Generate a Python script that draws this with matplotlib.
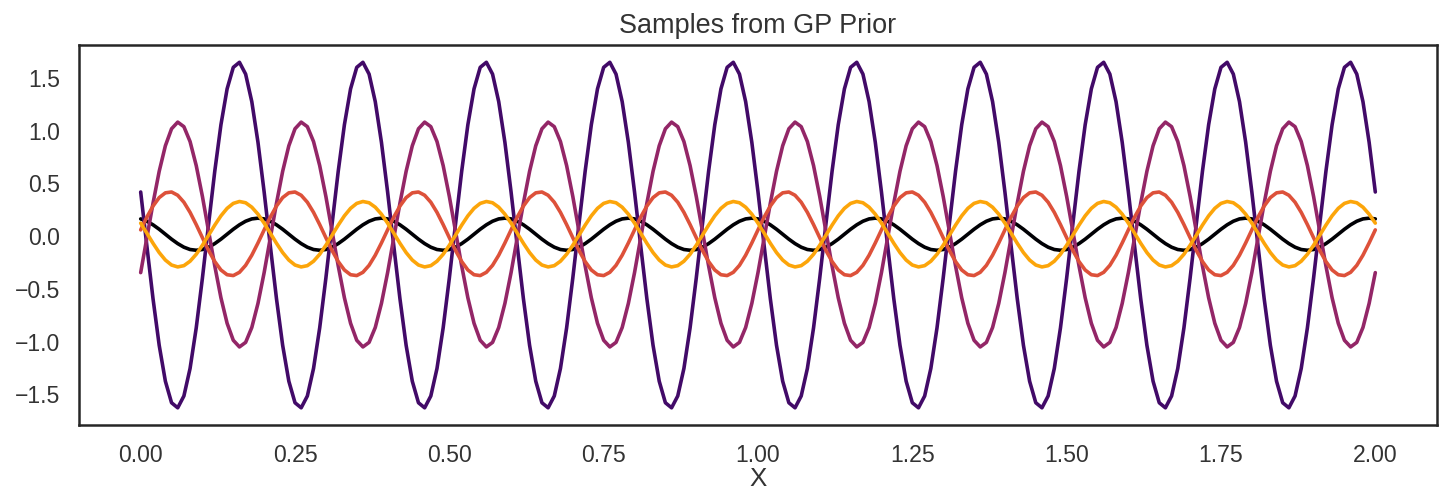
import numpy as np
import matplotlib
matplotlib.use("Agg")
import matplotlib.pyplot as plt
import seaborn as sns

# one period (0.2) of each prior sample, read at steps of 0.01
black = [0.163, 0.141, 0.107, 0.065, 0.018, -0.029, -0.071, -0.105, -0.127, -0.134,
         -0.127, -0.105, -0.071, -0.029, 0.018, 0.065, 0.107, 0.141, 0.163, 0.170]
purple = [0.418, -0.093, -0.594, -1.035, -1.375, -1.579, -1.627, -1.515, -1.254, -0.869,
          -0.398, 0.113, 0.614, 1.055, 1.395, 1.599, 1.647, 1.535, 1.274, 0.889]
magenta = [-0.346, -0.018, 0.312, 0.614, 0.856, 1.017, 1.080, 1.037, 0.896, 0.668,
           0.376, 0.048, -0.282, -0.584, -0.826, -0.987, -1.050, -1.007, -0.866, -0.638]
red = [0.059, 0.180, 0.285, 0.365, 0.410, 0.418, 0.387, 0.321, 0.225, 0.109,
       -0.015, -0.136, -0.241, -0.321, -0.366, -0.374, -0.343, -0.277, -0.181, -0.065]
yellow = [0.123, 0.028, -0.068, -0.156, -0.227, -0.274, -0.292, -0.280, -0.238, -0.172,
          -0.087, 0.008, 0.104, 0.192, 0.263, 0.310, 0.328, 0.316, 0.274, 0.208]

n_periods = 10
X = np.linspace(0, 2, 201)

sns.set_theme(style="white")
plt.rcParams['font.family'] = ['Liberation Sans', 'DejaVu Sans']
plt.rcParams['text.color'] = '#333333'
plt.rcParams['axes.labelcolor'] = '#333333'
plt.rcParams['xtick.color'] = '#333333'
plt.rcParams['ytick.color'] = '#333333'

fig = plt.figure(figsize=(1446 / 144, 492 / 144), dpi=144)
ax = fig.add_axes([0.0546, 0.136, 0.9392, 0.7725])

samples = [black, purple, magenta, red, yellow]
colors = plt.cm.inferno(np.linspace(0, 0.8, 5))
for s, c in zip(samples, colors):
    y = np.append(np.tile(s, n_periods), s[0])
    ax.plot(X, y, color=c, lw=1.8)

ax.set_title("Samples from GP Prior", fontsize=13.5)
ax.set_xlabel("X", fontsize=13, labelpad=0)
ax.set_xticks([0, 0.25, 0.5, 0.75, 1.0, 1.25, 1.5, 1.75, 2.0])
ax.tick_params(labelsize=11.5)
fig.savefig("out.png", dpi=144)
